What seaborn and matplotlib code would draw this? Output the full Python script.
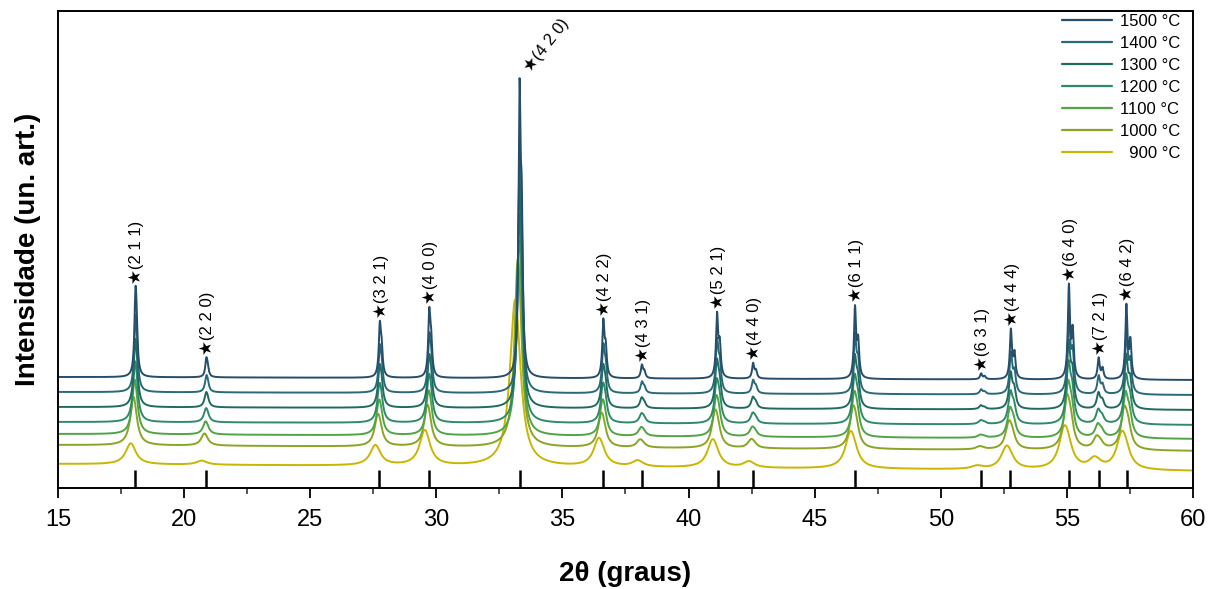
import numpy as np
import pandas as pd
import matplotlib
matplotlib.use("Agg")
import matplotlib.pyplot as plt
import seaborn as sns
from matplotlib.lines import Line2D

# ---------------- data ----------------
series = ["1500 °C", "1400 °C", "1300 °C", "1200 °C", "1100 °C", "1000 °C", "  900 °C"]
colors = ["#264d6b", "#276a78", "#1f6b60", "#2f8a68", "#50a446", "#8aa524", "#c9b602"]

hkl = ["(2 1 1)", "(2 2 0)", "(3 2 1)", "(4 0 0)", "(4 2 0)", "(4 2 2)", "(4 3 1)",
       "(5 2 1)", "(4 4 0)", "(6 1 1)", "(6 3 1)", "(4 4 4)", "(6 4 0)", "(7 2 1)", "(6 4 2)"]
peak_pos = [18.07, 20.88, 27.76, 29.72, 33.30, 36.62, 38.15, 41.13, 42.56, 46.60,
            51.60, 52.78, 55.08, 56.26, 57.36]
ref_pos = [18.06, 20.87, 27.74, 29.70, 33.30, 36.60, 38.17, 41.15, 42.54, 46.59,
           51.59, 52.74, 55.08, 56.27, 57.38]

h_1500 = [90, 20, 57, 71, 300, 60, 14, 67, 16, 74, 6, 51, 96, 22, 76]
h_1400 = [76, 17, 48, 60, 250, 50, 12, 56, 14, 62, 5, 43, 80, 19, 64]
h_1300 = [67, 15, 43, 53, 225, 44, 11, 50, 12, 55, 4, 38, 70, 17, 56]
h_1200 = [60, 14, 39, 48, 205, 40, 10, 45, 11, 50, 4, 34, 64, 15, 51]
h_1100 = [54, 13, 35, 44, 192, 36, 9, 41, 10, 46, 3, 31, 58, 14, 47]
h_1000 = [48, 12, 32, 41, 185, 34, 8, 38, 9, 43, 3, 29, 55, 13, 44]
h_900 = [21, 4, 20, 35, 165, 28, 6, 28, 6, 37, 3, 23, 43, 10, 38]
heights = [h_1500, h_1400, h_1300, h_1200, h_1100, h_1000, h_900]

fwhm = [0.10, 0.13, 0.16, 0.20, 0.24, 0.30, 0.48]
shift = [0.0, 0.0, -0.01, -0.02, -0.04, -0.09, -0.20]
base_start = [111, 96, 81, 66, 54, 43, 24]
base_end = [108, 93, 78, 63, 49, 37, 17]

# ---------------- build profiles ----------------
x = np.arange(15.0, 60.0001, 0.01)
frames = []
for name, hs, w, s, b0, b1 in zip(series, heights, fwhm, shift, base_start, base_end):
    y = b0 + (b1 - b0) * (x - 15) / 45.0
    g = w / 2.0
    for p, h in zip(peak_pos, hs):
        c = p + s
        d2 = np.degrees(2 * np.tan(np.radians(c / 2)) * 0.0025)  # Ka2 separation
        prof = 1 / (1 + ((x - c) / g) ** 2) + 0.5 / (1 + ((x - c - d2) / g) ** 2)
        norm = 1 + 0.5 / (1 + (d2 / g) ** 2)
        y = y + h * prof / norm
    frames.append(pd.DataFrame({"2θ": x, "I": y, "serie": name}))
df = pd.concat(frames[::-1], ignore_index=True)

# ---------------- plot ----------------
sns.set_theme(style="ticks")
plt.rcParams["font.family"] = ["Liberation Sans", "DejaVu Sans"]

fig = plt.figure(figsize=(12.13, 5.89), dpi=100)
ax = fig.add_axes([58 / 1213, 1 - 488 / 589, (1193 - 58) / 1213, (488 - 11) / 589])

pal = dict(zip(series, colors))
sns.lineplot(data=df, x="2θ", y="I", hue="serie", hue_order=series[::-1],
             palette=pal, estimator=None, sort=False, linewidth=1.4, ax=ax,
             legend=False)

# reference pattern sticks
ax.vlines(ref_pos, 0, 18, colors="black", linewidth=1.8)

# hkl labels above the 1500 °C pattern
for i, (p, lab) in enumerate(zip(peak_pos, hkl)):
    yb = base_start[0] + (base_end[0] - base_start[0]) * (p - 15) / 45.0 + h_1500[i]
    rot = 52 if lab == "(4 2 0)" else 90
    ax.annotate("★" + lab, xy=(p, yb), xytext=(1, 2), textcoords="offset points",
                rotation=rot, ha="center" if rot == 90 else "left",
                va="bottom", fontsize=12, color="black",
                family=["Liberation Sans", "DejaVu Sans"])

ax.set_xlim(15, 60)
ax.set_ylim(0, 477)
ax.set_xticks(np.arange(15, 61, 5))
ax.set_xticks(np.arange(17.5, 60, 5), minor=True)
ax.set_yticks([])
ax.tick_params(axis="x", which="major", length=7, width=1.3, direction="out",
               labelsize=17, colors="black", pad=8)
ax.tick_params(axis="x", which="minor", length=4, width=1.1, direction="out")
for sp in ax.spines.values():
    sp.set_visible(True)
    sp.set_linewidth(1.4)
    sp.set_color("black")

ax.set_xlabel("2θ (graus)", fontsize=20, fontweight="bold", labelpad=22, color="black")
ax.set_ylabel("Intensidade (un. art.)", fontsize=20, fontweight="bold", labelpad=12,
              color="black")

handles = [Line2D([0], [0], color=c, lw=1.6) for c in colors]
leg = ax.legend(handles, series, loc="upper right", frameon=False, fontsize=12,
                handlelength=3.0, handletextpad=0.5, labelspacing=0.42,
                borderaxespad=0.0, bbox_to_anchor=(0.995, 1.008))
for t in leg.get_texts():
    t.set_color("black")

fig.savefig("out.png", dpi=100)
